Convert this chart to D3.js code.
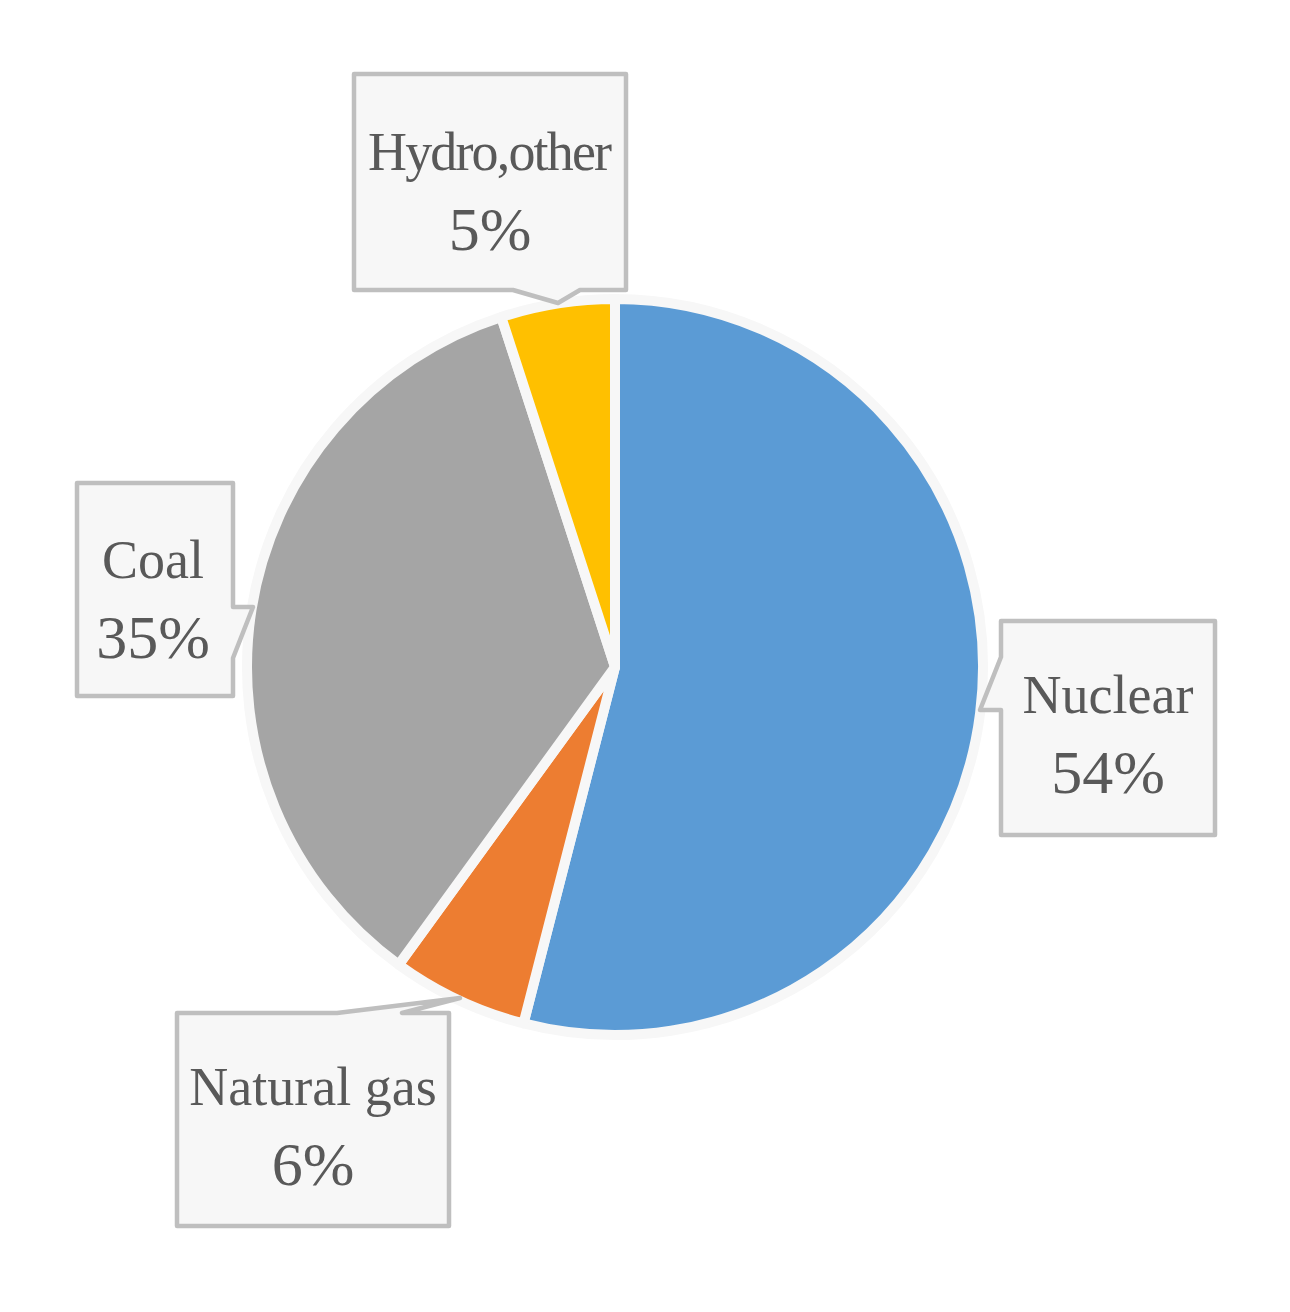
<!DOCTYPE html>
<html><head><meta charset="utf-8">
<script src="https://cdn.jsdelivr.net/npm/d3@7"></script>
<style>html,body{margin:0;padding:0;background:#fff}svg{display:block}</style>
</head><body>
<svg id="chart" width="1290" height="1312"></svg>
<script>
const categories = ["Nuclear", "Natural gas", "Coal", "Hydro,other"];
const values = [54, 6, 35, 5];
const colors = ["#5b9bd5", "#ed7d31", "#a5a5a5", "#ffc000"];
const labelText = ["54%", "6%", "35%", "5%"];

// label box layout (box rect + callout notch)
const boxes = [
  {x:1001, y:621, w:214, h:214, side:"left", a:657, b:710, cx:1108, y1:713},
  {x:177, y:1013, w:272, h:213, side:"top", a:337, b:402, cx:313, y1:1105},
  {x:77, y:483, w:156, h:213, side:"right", a:607, b:658, cx:153, y1:578},
  {x:354, y:74, w:272, h:216, side:"bottom", a:513, b:580, cx:490, y1:170, tl:244}
];

const svg = d3.select("#chart");
const cx = 615, cy = 667, R = 368;
const pie = d3.pie().sort(null).value(d => d)(values);
const arc = d3.arc().innerRadius(0).outerRadius(R);
const g = svg.append("g").attr("transform", `translate(${cx},${cy})`);
g.selectAll("path").data(pie).enter().append("path")
  .attr("d", arc).attr("fill", (d,i) => colors[i])
  .attr("stroke", "#f7f7f7").attr("stroke-width", 10).attr("stroke-linejoin","round");

function tipFor(b) {
  if (b.side === "left") return [b.x - 21, b.b];
  if (b.side === "right") return [b.x + b.w + 20, b.a];
  if (b.side === "top") return [b.x + b.w + 11, b.y - 15];
  return [b.x + 204, b.y + b.h + 13];
}
boxes.forEach((b, i) => {
  const t = tipFor(b);
  const x0=b.x, y0=b.y, x1=b.x+b.w, y1=b.y+b.h;
  let pts;
  if (b.side === "left") pts = [[x0,y0],[x1,y0],[x1,y1],[x0,y1],[x0,b.b],t,[x0,b.a]];
  else if (b.side === "right") pts = [[x0,y0],[x1,y0],[x1,b.a],t,[x1,b.b],[x1,y1],[x0,y1]];
  else if (b.side === "top") pts = [[x0,y0],[b.a,y0],t,[b.b,y0],[x1,y0],[x1,y1],[x0,y1]];
  else pts = [[x0,y0],[x1,y0],[x1,y1],[b.b,y1],t,[b.a,y1],[x0,y1]];
  svg.append("path").attr("d", d3.line()(pts) + "Z")
    .attr("fill", "#f7f7f7").attr("stroke", "#bfbfbf").attr("stroke-width", 4.5)
    .attr("stroke-linejoin", "round");
  const txt = svg.append("text").attr("text-anchor","middle")
    .attr("font-family","'Liberation Serif', serif").attr("fill","#595959");
  const t1 = txt.append("tspan").attr("x", b.cx).attr("y", b.y1).attr("font-size", 54).text(categories[i]);
  if (b.tl) t1.attr("textLength", b.tl).attr("lengthAdjust", "spacing");
  txt.append("tspan").attr("x", b.cx).attr("y", b.y1 + 80).attr("font-size", 62).text(labelText[i]);
});
</script>
</body></html>
